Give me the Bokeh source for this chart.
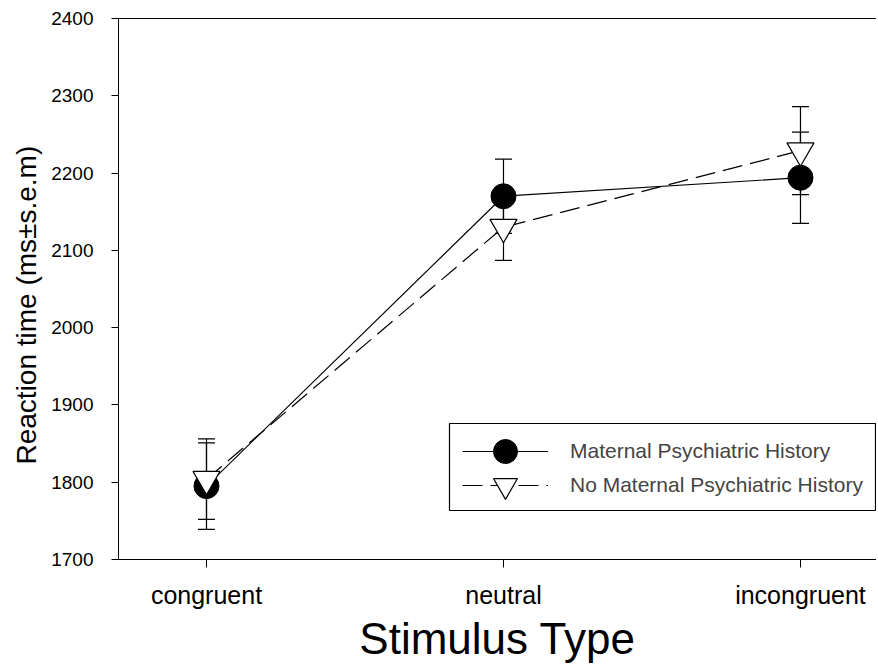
from bokeh.plotting import figure
from bokeh.models import (ColumnDataSource, Whisker, TeeHead, Legend, LegendItem,
                          LinearAxis, FixedTicker, BoxAnnotation, Title)
from bokeh.embed import file_html
from bokeh.resources import INLINE

categories = ["congruent", "neutral", "incongruent"]
maternal_mean = [1795, 2170, 2194]
maternal_sem = [56, 48, 59]
nomaternal_mean = [1804, 2130, 2229]
nomaternal_sem = [52, 43, 57]
y_ticks = [1700, 1800, 1900, 2000, 2100, 2200, 2300, 2400]
series_labels = ["Maternal Psychiatric History", "No Maternal Psychiatric History"]
y_title = "Reaction time (ms\u00b1s.e.m)"
x_title = "Stimulus Type"

FONT = "Liberation Sans"
xs = list(range(1, len(categories) + 1))

p = figure(width=876, height=665, output_backend="svg", toolbar_location=None,
           x_range=(0.7037, 3.256), y_range=(1700, 2400),
           min_border_left=118, min_border_right=0, min_border_top=18,
           min_border_bottom=105)
p.outline_line_color = None
p.grid.visible = False
p.background_fill_color = "white"
p.border_fill_color = "white"

src_m = ColumnDataSource(dict(x=xs, y=maternal_mean,
                              upper=[m + s for m, s in zip(maternal_mean, maternal_sem)],
                              lower=[m - s for m, s in zip(maternal_mean, maternal_sem)]))
src_n = ColumnDataSource(dict(x=xs, y=nomaternal_mean,
                              upper=[m + s for m, s in zip(nomaternal_mean, nomaternal_sem)],
                              lower=[m - s for m, s in zip(nomaternal_mean, nomaternal_sem)]))

for src in (src_m, src_n):
    w = Whisker(base="x", upper="upper", lower="lower", source=src,
                line_color="black", line_width=1.2,
                upper_head=TeeHead(size=17, line_color="black", line_width=1.2),
                lower_head=TeeHead(size=17, line_color="black", line_width=1.2))
    p.add_layout(w)

l1 = p.line("x", "y", source=src_m, line_color="black", line_width=1.2)
s1 = p.scatter("x", "y", source=src_m, marker="circle", size=25,
               fill_color="black", line_color="black")
l2 = p.line("x", "y", source=src_n, line_color="black", line_width=1.2,
            line_dash="20 8")
s2 = p.scatter("x", "y", source=src_n, marker="inverted_triangle", size=27,
               fill_color="white", line_color="black", line_width=1.2)

# x axis
p.xaxis.ticker = FixedTicker(ticks=xs)
p.xaxis.major_label_overrides = {x: c for x, c in zip(xs, categories)}
p.xaxis.axis_label = x_title
p.xaxis.axis_label_text_font = FONT
p.xaxis.axis_label_text_font_style = "normal"
p.xaxis.axis_label_text_font_size = "44px"
p.xaxis.axis_label_standoff = 2
p.xaxis.major_label_text_font = FONT
p.xaxis.major_label_text_font_size = "25px"
p.xaxis.major_label_standoff = 13
p.xaxis.major_tick_out = 8
p.xaxis.major_tick_in = 0
p.xaxis.minor_tick_line_color = None

# y axis
p.yaxis.ticker = FixedTicker(ticks=y_ticks)
p.yaxis.major_label_text_font = FONT
p.yaxis.major_label_text_font_size = "19px"
p.yaxis.major_label_standoff = 18
p.yaxis.major_tick_out = 7
p.yaxis.major_tick_in = 0
p.yaxis.minor_tick_line_color = None

for ax in (p.xaxis[0], p.yaxis[0]):
    ax.axis_line_color = "black"
    ax.major_tick_line_color = "black"
    ax.major_label_text_color = "black"
    ax.axis_label_text_color = "black"

# y title as a left-side title, shifted along the axis
yt = Title(text=y_title, align="left", offset=95, text_font=FONT,
           text_font_size="28px", text_font_style="normal", text_color="black",
           standoff=14)
p.add_layout(yt, "left")

top = LinearAxis(ticker=FixedTicker(ticks=[]), major_label_text_font_size="0px",
                 major_tick_line_color=None, minor_tick_line_color=None,
                 axis_line_color="black")
p.add_layout(top, "above")

# legend frame (screen units, relative to the plot frame)
box = BoxAnnotation(left=331, right=757, bottom=49, top=136,
                    left_units="screen", right_units="screen",
                    bottom_units="screen", top_units="screen",
                    fill_color="white", fill_alpha=1.0,
                    line_color="black", line_width=1.2, line_alpha=1.0)
p.add_layout(box)

for label, rends, loc in ((series_labels[0], [l1, s1], (344, 78)),
                          (series_labels[1], [l2, s2], (344, 44))):
    lg = Legend(items=[LegendItem(label=label, renderers=rends)], location=loc)
    lg.label_text_font = FONT
    lg.label_text_font_size = "21px"
    lg.glyph_width = 86
    lg.glyph_height = 60
    lg.label_standoff = 22
    lg.padding = 0
    lg.spacing = 0
    lg.margin = 0
    lg.border_line_color = None
    lg.background_fill_alpha = 0.0
    lg.click_policy = "none"
    p.add_layout(lg, "center")

open("out.html", "w").write(file_html(p, INLINE))
